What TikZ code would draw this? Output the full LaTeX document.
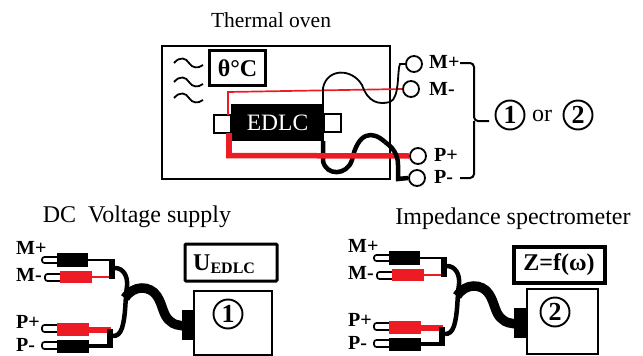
\documentclass[tikz,border=0pt]{standalone}
\usepackage{fontspec}
\setmainfont{Liberation Serif}
\definecolor{myred}{HTML}{ED1C24}
\tikzset{
  px/.style={x=1pt,y=-1pt},
  lbl/.style={inner sep=0pt,font=\fontsize{24}{24}\selectfont},
  blbl/.style={inner sep=0pt,font=\fontsize{20}{20}\bfseries\selectfont},
  term/.style={circle,draw,line width=1.8pt,minimum size=16pt,inner sep=0pt},
  numc/.style={circle,draw,line width=1.9pt,minimum size=29pt,inner sep=0pt,font=\fontsize{26}{26}\bfseries\selectfont},
  pin/.style={draw,line width=1.7pt,fill=white,rounded corners=2.5pt},
  thinw/.style={line width=1.8pt},
  fatw/.style={line width=4.5pt},
  cable/.style={line width=9.5pt},
}
\newcommand{\plugset}[2]{%
\begin{scope}[shift={(#1,#2)}]
  \node[blbl,anchor=west] (mp) at (16,248) {M+};
  \node[blbl,anchor=west] (mm) at (16,275) {M-};
  \node[blbl,anchor=west] (pp) at (16,322) {P+};
  \node[blbl,anchor=west] (pm) at (16,345) {P-};
  \draw[pin] (58,257) -- (42,257) -- (42,263) -- (58,263);
  \draw[pin] (60,274) -- (45,274) -- (45,281) -- (60,281);
  \draw[pin] (58,325) -- (42,325) -- (42,332) -- (58,332);
  \draw[pin] (58,342) -- (42,342) -- (42,349) -- (58,349);
  \fill (57,253) rectangle (88,267);
  \fill[myred] (60,271) rectangle (92,283);
  \fill[myred] (57,323) rectangle (89,336);
  \fill (57,340) rectangle (89,353);
  \draw[thinw] (88,260) -- (110,260);
  \draw[myred,line width=1.5pt] (92,277) -- (110,277);
  \draw[myred,line width=6pt] (89,329.5) -- (111,329.5);
  \draw[fatw] (89,346) -- (109,346);
  \fill (109,259) rectangle (115,279);
  \fill (107,329) rectangle (113,348);
  \draw[fatw] (115,268) .. controls (123,268) and (128,276) .. (127,286) .. controls (125,300) and (126,315) .. (122,328) .. controls (120,334) and (117,336) .. (113,336);
  \draw[cable] (125,298) .. controls (133,285) and (150,285) .. (157,296) .. controls (163,305) and (163,316) .. (170,321) .. controls (174,325) and (178,325) .. (184,326);
  \fill (182,310) rectangle (194,340);
\end{scope}}
\begin{document}
\begin{tikzpicture}[px]
\useasboundingbox (0,0) rectangle (643,356);
\node[lbl,font=\fontsize{21.5}{21.5}\selectfont] (t1) at (271,20) {Thermal oven};
\node[draw,line width=1.5pt,minimum width=228pt,minimum height=133pt,inner sep=0pt] (oven) at (276,112.5) {};
\node[draw,line width=3.5pt,minimum width=56pt,minimum height=35pt,inner sep=0pt,font=\fontsize{24}{24}\bfseries\selectfont] (tbox) at (237.5,68) {θ°C};
\foreach \yy in {63,82,98}{
  \draw[thinw] (174,\yy) .. controls (180,\yy-7) and (186,\yy-5) .. (189,\yy) .. controls (192,\yy+5) and (198,\yy+6) .. (203,\yy+2);
}
\node[draw,line width=1.3pt,fill=white,minimum width=17pt,minimum height=18pt,inner sep=0pt] (tl) at (222.5,124) {};
\node[draw,line width=1.3pt,fill=white,minimum width=17pt,minimum height=18pt,inner sep=0pt] (tr) at (332.5,123) {};
\node[fill=black,text=white,minimum width=93pt,minimum height=37pt,inner sep=0pt,font=\fontsize{23.5}{23.5}\selectfont] (edlc) at (277.5,122.5) {EDLC};
\node[term] (cmp) at (414,64) {};
\node[term] (cmm) at (411,89) {};
\node[term] (cpp) at (418,156) {};
\node[term] (cpm) at (417,178) {};
\node[blbl,anchor=west] (lmp) at (429,62) {M+};
\node[blbl,anchor=west] (lmm) at (429,89) {M-};
\node[blbl,anchor=west] (lpp) at (434,155) {P+};
\node[blbl,anchor=west] (lpm) at (434,177) {P-};
\draw[myred,line width=1.7pt] (228,115) -- (228,92) -- (cmm.west);
\draw[thinw] (323,104) -- (323,88) .. controls (327,68) and (352,68) .. (362,85) .. controls (368,102) and (378,105) .. (390,102) .. controls (400,98) and (397,70) .. (400,64) -- (cmp.west);
\draw[fatw] (323,141) -- (323,161) .. controls (326,176) and (347,176) .. (352,160) .. controls (358,132) and (372,130) .. (385,142);
\draw[myred,line width=6pt] (229,133) -- (229,155.5);
\draw[myred,line width=5.5pt] (226,155.5) -- (cpp.west);
\draw[fatw] (385,142) .. controls (397,150) and (398,160) .. (398,165) -- (398,179) -- (cpm.west);
\draw[line width=2pt,rounded corners=4pt] (460,63) -- (474,63) -- (474,121) -- (489,121);
\draw[line width=2pt,rounded corners=4pt] (474,121) -- (474,178) -- (460,178);
\node[numc] (n1a) at (510,115) {1};
\node[lbl] (orl) at (542,116) {or};
\node[numc] (n2a) at (578,115) {2};
\node[lbl] (t2) at (137,217) {DC\ \ Voltage supply};
\plugset{0}{0}
\node[draw,line width=3pt,minimum width=92pt,minimum height=37pt,inner sep=0pt,rounded corners=1pt] (ubox) at (231,262.5) {};
\node[inner sep=0pt,anchor=base west,font=\fontsize{24}{24}\bfseries\selectfont] (ulab) at (193,270) {U\raisebox{-3pt}{\fontsize{16}{16}\bfseries\selectfont EDLC}};
\node[draw,line width=1.5pt,minimum width=78pt,minimum height=64pt,inner sep=0pt] (dev1) at (233,323) {};
\node[numc] (n1b) at (228,314) {1};
\node[lbl] (t3) at (513,219) {Impedance spectrometer};
\plugset{332}{-2}
\node[draw,line width=4pt,minimum width=91pt,minimum height=36pt,inner sep=0pt,font=\fontsize{24}{24}\bfseries\selectfont] (zbox) at (559,265) {Z=f(ω)};
\node[draw,line width=1.5pt,minimum width=71pt,minimum height=65pt,inner sep=0pt] (dev2) at (562.5,321.5) {};
\node[numc] (n2b) at (555,312) {2};
\end{tikzpicture}
\end{document}
